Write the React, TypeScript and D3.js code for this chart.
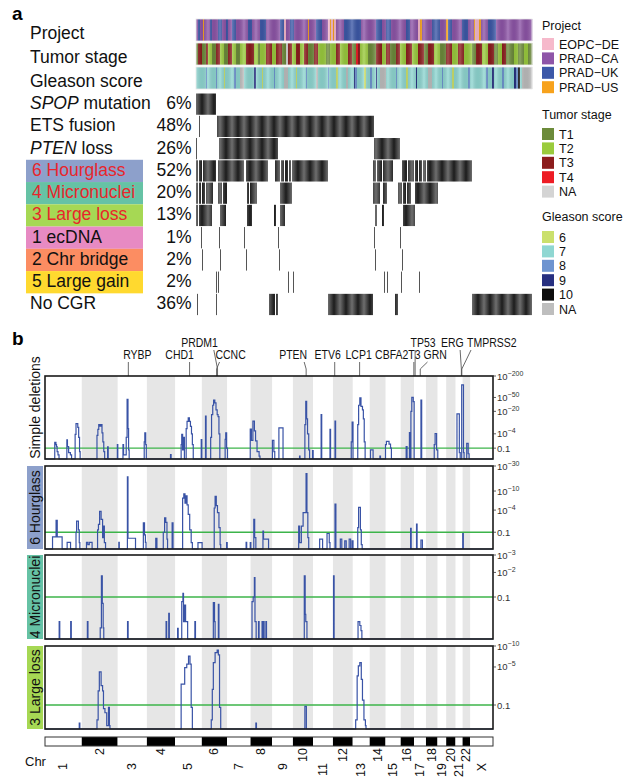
import React from "react";
import * as d3 from "d3";

const FONT = "'Liberation Sans', Arial, Helvetica, sans-serif";

// ---------- panel a data ----------
const N_SAMPLES = 336;

const projectRuns: [string, number][] = [
  ["CA", 2], ["UK", 2], ["CA", 3], ["US", 1], ["CA", 6], ["UK", 2], ["CA", 6], ["UK", 4], ["CA", 4], ["UK", 2],
  ["CA", 4], ["UK", 4], ["CA", 12], ["UK", 4], ["CA", 8], ["UK", 6], ["CA", 14], ["UK", 4], ["DE", 2], ["CA", 4],
  ["UK", 4], ["CA", 14], ["US", 1], ["CA", 7], ["UK", 6], ["CA", 6], ["DE", 2], ["US", 1], ["DE", 2], ["US", 1],
  ["DE", 2], ["CA", 8], ["UK", 17], ["CA", 15], ["UK", 6], ["CA", 4], ["UK", 5], ["CA", 15], ["UK", 4], ["CA", 8],
  ["DE", 2], ["US", 2], ["CA", 10], ["UK", 8], ["CA", 6], ["US", 2], ["UK", 4], ["CA", 10], ["UK", 6], ["CA", 6],
  ["US", 1], ["DE", 4], ["US", 2], ["CA", 7], ["UK", 8], ["CA", 36],
];

const tumorRuns: [string, number][] = [
  ["T1", 2], ["T3", 4], ["T1", 4], ["T3", 2], ["T2", 4], ["T1", 4], ["T3", 4], ["T2", 4], ["T1", 4], ["T3", 4],
  ["T2", 4], ["T1", 4], ["T2", 6], ["T3", 8], ["T2", 4], ["T1", 2], ["T2", 6], ["T3", 6], ["T2", 4], ["T3", 6],
  ["T1", 4], ["NA", 2], ["T3", 4], ["T2", 4], ["T3", 4], ["T2", 4], ["T3", 4], ["T1", 6], ["T3", 4], ["T2", 8],
  ["T1", 4], ["T2", 6], ["T3", 4], ["T2", 8], ["T3", 4], ["T1", 4], ["T4", 2], ["T3", 2], ["T2", 8], ["T1", 8],
  ["T3", 6], ["T2", 4], ["T3", 4], ["T1", 6], ["T3", 4], ["T2", 6], ["T3", 6], ["T2", 6], ["T3", 6], ["T1", 4],
  ["T3", 6], ["T2", 6], ["T1", 6], ["T3", 6], ["T2", 6], ["T3", 6], ["T2", 8], ["T1", 4], ["T3", 6], ["T2", 6],
  ["T3", 6], ["T1", 4], ["T2", 4], ["T3", 4], ["T1", 8], ["T2", 4], ["T1", 6], ["T2", 4], ["T1", 4],
];

const gleasonRuns: [string, number][] = [
  ["7", 10], ["8", 1], ["7", 9], ["8", 1], ["7", 7], ["6", 1], ["7", 9], ["8", 2], ["7", 4], ["NA", 4],
  ["7", 10], ["9", 2], ["7", 6], ["6", 1], ["7", 11], ["8", 1], ["7", 9], ["NA", 4], ["7", 8], ["6", 1],
  ["7", 9], ["8", 1], ["7", 9], ["NA", 2], ["7", 10], ["8", 1], ["7", 7], ["6", 2], ["7", 8], ["NA", 2],
  ["7", 6], ["9", 1], ["8", 2], ["7", 7], ["6", 2], ["7", 4], ["8", 2], ["7", 4], ["9", 1], ["7", 3],
  ["NA", 6], ["7", 10], ["8", 1], ["7", 9], ["6", 2], ["7", 8], ["9", 1], ["7", 11], ["NA", 4], ["7", 10],
  ["8", 1], ["7", 9], ["6", 2], ["7", 14], ["8", 2], ["7", 16], ["8", 2], ["7", 4], ["9", 2], ["7", 8],
  ["8", 2], ["7", 10], ["9", 2], ["8", 2], ["10", 2], ["7", 2], ["NA", 10],
];

const eventLabels = ["SPOP mutation", "ETS fusion", "PTEN loss", "6 Hourglass", "4 Micronuclei", "3 Large loss", "1 ecDNA", "2 Chr bridge", "5 Large gain", "No CGR"];
const eventPercents = ["6%", "48%", "26%", "52%", "20%", "13%", "1%", "2%", "2%", "36%"];

// sample ranges [start, end) carrying each event
const eventSegments: [number, number][][] = [
  [[0, 20]],
  [[3, 4], [21, 178]],
  [[0, 1], [23, 82], [178, 204]],
  [[0, 2], [3, 6], [7, 20], [22, 48], [50, 72], [79, 84], [85, 88], [89, 92], [93, 95], [96, 132], [177, 180], [181, 186], [187, 197], [206, 211], [212, 218], [219, 222], [223, 226], [227, 230], [231, 276]],
  [[0, 2], [3, 5], [6, 9], [10, 17], [22, 26], [27, 31], [51, 53], [54, 61], [84, 96], [177, 184], [187, 191], [202, 206], [207, 210], [211, 215], [219, 242]],
  [[0, 2], [3, 16], [24, 30], [51, 56], [78, 80], [84, 89], [179, 181], [186, 188], [207, 219]],
  [[5, 6], [23, 24], [48, 49], [82, 83], [178, 179], [204, 205]],
  [[6, 7], [24, 25], [50, 51], [83, 84], [179, 180], [206, 207]],
  [[20, 21], [22, 23], [92, 93], [97, 98], [188, 189], [191, 192], [205, 206], [223, 224]],
  [[1, 2], [20, 21], [73, 79], [80, 82], [132, 177], [199, 202], [276, 336]],
];

const projectLegend = [["DE", "EOPC\u2212DE"], ["CA", "PRAD\u2212CA"], ["UK", "PRAD\u2212UK"], ["US", "PRAD\u2212US"]];
const tumorLegend = [["T1", "T1"], ["T2", "T2"], ["T3", "T3"], ["T4", "T4"], ["NA", "NA"]];
const gleasonLegend = [["6", "6"], ["7", "7"], ["8", "8"], ["9", "9"], ["10", "10"], ["NA", "NA"]];

const projectColors: Record<string, string> = { DE: "#f6b9cb", CA: "#8e55a8", UK: "#3c58a8", US: "#f7a21c" };
const tumorColors: Record<string, string> = { T1: "#6c8b3a", T2: "#9acb3c", T3: "#8c1d1d", T4: "#ed1c24", NA: "#d4d4d4" };
const gleasonColors: Record<string, string> = { "6": "#cbe06c", "7": "#8fd7d2", "8": "#6e94d0", "9": "#262f80", "10": "#0d0d0d", NA: "#bebebe" };

const eventBoxColors = [null, null, null, "#8da0cb", "#66c2a5", "#a6d854", "#e78ac3", "#fc8d62", "#ffd92f", null];
const eventTextColors = ["#111", "#111", "#111", "#e8262b", "#e8262b", "#e8262b", "#111", "#111", "#111", "#111"];

// ---------- panel b data ----------
const chrNames = ["1", "2", "3", "4", "5", "6", "7", "8", "9", "10", "11", "12", "13", "14", "15", "16", "17", "18", "19", "20", "21", "22", "X"];
const chrLengths = [249, 243, 198, 191, 181, 171, 159, 146, 141, 136, 135, 134, 115, 107, 103, 90, 81, 78, 59, 63, 48, 51, 155];

const geneNames = ["RYBP", "CHD1", "PRDM1", "CCNC", "PTEN", "ETV6", "LCP1", "CBFA2T3", "TP53", "GRN", "ERG", "TMPRSS2"];
const geneChr = ["3", "5", "6", "6", "10", "12", "13", "16", "17", "17", "21", "21"];
const geneMb = [72.4, 98.2, 106.5, 99.9, 89.6, 12.0, 46.7, 89.0, 7.6, 42.4, 39.8, 42.8];

// profiles: [genome position (Mb, cumulative), -log10 q], step after
const simpleDeletions: [number, number][] = [
  [0, 0], [66, 1.9], [74, 1.5], [78, 1.2], [82, 0.6], [88, 0.3], [95, 0],
  [148, 2.4], [152, 1.2], [160, 0.5], [172, 0.3], [180, 0],
  [204, 3.8], [210, 8.6], [222, 6.5], [228, 3.0], [234, 0.6], [238, 0],
  [352, 3.5], [358, 5.6], [364, 8.0], [372, 7.2], [380, 8.0], [386, 4.3], [392, 2.0], [398, 0.6], [404, 0], [424, 1.16], [428, 0],
  [490, 1.5], [493, 0], [528, 1.5], [532, 0.3], [550, 3], [556, 44], [562, 6], [566, 0.8], [570, 0],
  [672, 2], [676, 4.3], [682, 1.5], [686, 0],
  [850, 0.32], [854, 0],
  [922, 1.5], [926, 3.8], [932, 0.8], [936, 3.0], [944, 0], [956, 6], [962, 10], [970, 12.9], [978, 10], [985, 7], [992, 4], [998, 1.5], [1004, 0],
  [1058, 2.46], [1062, 0], [1087, 14.4], [1091, 0],
  [1122, 3], [1128, 16], [1136, 30], [1142, 42], [1150, 35], [1158, 22], [1166, 16], [1172, 14], [1178, 4], [1184, 0],
  [1220, 2.5], [1224, 4.3], [1230, 1], [1236, 0],
  [1390, 5.8], [1398, 2.3], [1408, 10.2], [1418, 5], [1426, 2.2], [1436, 0.6], [1450, 0.2], [1456, 0],
  [1540, 2.3], [1550, 0.6], [1556, 0],
  [1584, 6.3], [1612, 0],
  [1724, 0.2], [1727, 0], [1760, 8], [1766, 39], [1772, 12], [1778, 4], [1786, 0.8], [1792, 0], [1812, 0.7], [1816, 0],
  [1870, 16.2], [1874, 0], [1930, 5.6], [1934, 0], [1964, 10.2], [1968, 0],
  [2074, 2], [2080, 9.5], [2086, 0], [2118, 8], [2124, 30], [2132, 49], [2140, 28], [2150, 22], [2156, 12], [2162, 2], [2168, 0],
  [2204, 0.8], [2222, 0], [2268, 0.2], [2272, 0],
  [2306, 1.5], [2312, 2.1], [2330, 1.6], [2340, 1.0], [2346, 0],
  [2446, 1.2], [2452, 0], [2468, 4.4], [2472, 0], [2478, 20], [2484, 50], [2494, 38], [2500, 0],
  [2546, 42], [2551, 0],
  [2636, 1.5], [2642, 4.1], [2652, 0.8], [2660, 0],
  [2790, 16.8], [2806, 0.5], [2812, 0], [2822, 113], [2834, 0.5], [2838, 0],
  [2856, 1.7], [2866, 0.4], [2872, 0],
  [3034, 0],
];

const hourglassProfile: [number, number][] = [
  [0, 0], [51, 0.65], [68, 0.65], [75, 2.26], [83, 0.65], [116, 0],
  [150, 0.31], [173, 0],
  [210, 1.0], [214, 2.17], [226, 1.2], [232, 0.3], [236, 0],
  [281, 0.31], [290, 0.2], [300, 0.31], [319, 0],
  [356, 1.2], [362, 1.77], [370, 3.76], [380, 2.4], [390, 0.6], [396, 1.58], [402, 0.3], [410, 0],
  [500, 0.31], [503, 0],
  [558, 18.8], [562, 0.56], [613, 0],
  [666, 1.96], [674, 0.8], [680, 0.31], [684, 0],
  [750, 0.56], [758, 0],
  [801, 1.0], [810, 2.63], [818, 2.0], [826, 0.5], [830, 0],
  [861, 1.96], [867, 0],
  [932, 7.2], [940, 8.8], [948, 5.7], [956, 8.0], [962, 5.2], [970, 3.2], [980, 1.2], [990, 0.3], [998, 0],
  [1036, 0.3], [1064, 0],
  [1146, 4.45], [1152, 7.8], [1160, 5.0], [1168, 3.5], [1178, 1.42], [1186, 0.2], [1190, 0],
  [1230, 0.3], [1234, 0],
  [1362, 0.31], [1366, 0], [1390, 0.3], [1394, 0],
  [1414, 2.4], [1420, 0.6], [1428, 0],
  [1476, 1.1], [1480, 0.5], [1500, 0.5], [1514, 0],
  [1718, 1.58], [1724, 0.3], [1736, 1.58], [1748, 3.5], [1768, 21.7], [1774, 3.5], [1780, 0.6], [1786, 0],
  [1860, 0.5], [1880, 0], [1910, 0.9], [1925, 0.3], [1930, 0],
  [1964, 5.4], [1970, 0],
  [2000, 0.5], [2010, 0], [2030, 0.4], [2040, 0], [2060, 0.5], [2070, 0], [2080, 0.4], [2086, 0],
  [2118, 1.42], [2124, 4.6], [2136, 1.2], [2142, 0.2], [2148, 0],
  [2476, 1.35], [2480, 0], [2516, 1.81], [2520, 0], [2546, 0.45], [2556, 0],
  [2829, 0.9], [2833, 0],
  [3034, 0],
];

const micronucleiProfile: [number, number][] = [
  [0, 0], [96, 0.33], [100, 0], [174, 0.33], [178, 0], [287, 0.33], [291, 0],
  [374, 0.2], [382, 1.84], [388, 0.8], [394, 0.2], [398, 0],
  [559, 0.33], [563, 0],
  [820, 0.33], [824, 0], [838, 0.53], [842, 0], [898, 0.19], [902, 0],
  [926, 0.85], [934, 1.12], [938, 0.33], [944, 0.75], [952, 0.33], [960, 0.33], [966, 0], [1015, 0.33], [1019, 0],
  [1140, 0.82], [1148, 0.33], [1152, 0], [1174, 0.77], [1178, 0],
  [1402, 0.85], [1410, 1.0], [1418, 1.75], [1422, 0.33], [1430, 0], [1446, 0.33], [1450, 0], [1470, 0.33], [1474, 0], [1480, 0.33], [1484, 0], [1496, 0.33], [1500, 0],
  [1756, 1.84], [1762, 0.5], [1766, 0.33], [1774, 0],
  [1954, 1.84], [1958, 0],
  [2120, 0.33], [2132, 0.25], [2140, 0.15], [2146, 0],
  [3034, 0],
];

const largeLossProfile: [number, number][] = [
  [0, 0], [232, 0.19], [236, 0],
  [352, 0.3], [360, 2.0], [368, 4.2], [380, 2.5], [390, 2.0], [396, 0.8], [406, 0.6], [418, 0.1], [430, 0.87], [436, 0.1], [440, 0],
  [922, 2.65], [946, 4.9], [960, 5.5], [972, 7.2], [982, 5.5], [990, 0.87], [998, 0],
  [1126, 0.3], [1133, 2.15], [1140, 5.8], [1152, 8.1], [1166, 8.8], [1174, 7.5], [1182, 0.87], [1190, 0],
  [1428, 0.19], [1432, 0],
  [1760, 0.92], [1770, 0],
  [2104, 0.3], [2114, 3.64], [2122, 5.2], [2132, 5.8], [2142, 3.2], [2150, 1.3], [2160, 0.3], [2170, 0.1], [2174, 0],
  [3034, 0],
];

const panels = [
  { name: "Simple deletions", data: simpleDeletions, max: 200, ticks: [200, 50, 20, 4, 1], box: null, top: 376, bottom: 459 },
  { name: "6 Hourglass", data: hourglassProfile, max: 30, ticks: [30, 10, 4, 1], box: "#8da0cb", top: 466, bottom: 549 },
  { name: "4 Micronuclei", data: micronucleiProfile, max: 3, ticks: [3, 2, 1], box: "#66c2a5", top: 555, bottom: 639 },
  { name: "3 Large loss", data: largeLossProfile, max: 10, ticks: [10, 5, 1], box: "#a6d854", top: 646, bottom: 729 },
];

function runsToCells(runs: [string, number][]) {
  let acc = 0;
  return runs.map(([k, n]) => {
    const c = { k, start: acc, end: acc + n };
    acc += n;
    return c;
  });
}

function renderLabel(label: string) {
  if (label.startsWith("SPOP") || label.startsWith("PTEN")) {
    const [first, ...rest] = label.split(" ");
    return (
      <>
        <tspan fontStyle="italic">{first}</tspan> {rest.join(" ")}
      </>
    );
  }
  return label;
}

function tickLabel(v: number) {
  if (v === 1) return <tspan>0.1</tspan>;
  return (
    <>
      <tspan>10</tspan>
      <tspan fontSize={7} dy={-4}>{"\u2212" + v}</tspan>
    </>
  );
}

const App = () => {
  const W = 624;
  const H = 779;

  // panel a
  const heatX = d3.scaleLinear().domain([0, N_SAMPLES]).range([196, 532]);
  const annRows = [
    { name: "Project", cells: runsToCells(projectRuns), colors: projectColors, top: 19 },
    { name: "Tumor stage", cells: runsToCells(tumorRuns), colors: tumorColors, top: 43 },
    { name: "Gleason score", cells: runsToCells(gleasonRuns), colors: gleasonColors, top: 67 },
  ];
  const annH = 22;
  const rowTop = 93;
  const rowH = 22.26;
  const labelSize = 17.5;

  const legends = [
    { title: "Project", items: projectLegend, colors: projectColors, titleY: 30, top: 38 },
    { title: "Tumor stage", items: tumorLegend, colors: tumorColors, titleY: 119, top: 128 },
    { title: "Gleason score", items: gleasonLegend, colors: gleasonColors, titleY: 221, top: 231 },
  ];
  const legStep = 14.4;

  // panel b
  const chrStart = chrLengths.map((_, i) => d3.sum(chrLengths.slice(0, i)));
  const genomeTotal = d3.sum(chrLengths);
  const gx = d3.scaleLinear().domain([0, genomeTotal]).range([45, 493]);
  const plotL = gx(0);
  const plotR = gx(genomeTotal);

  const genes = geneNames.map((name, i) => {
    const pos = chrStart[chrNames.indexOf(geneChr[i])] + geneMb[i];
    return { name, x: gx(pos) };
  });
  const geneDx = [9, -10, -18, 14, -13, -7, -1, -16, 8, 15, -9, 30];
  const geneUpper = [false, false, true, false, false, false, false, false, true, false, true, true];
  const geneSize = 12.5;
  const geneSquash = 0.84;

  const chrBarTop = 737;
  const chrBarH = 9;

  return (
    <svg width={W} height={H} style={{ position: "absolute", left: 0, top: 0, background: "#fff" }} fontFamily={FONT}>
      <defs>
        <linearGradient id="barGrad" x1="0" x2="1" y1="0" y2="0">
          <stop offset="0" stopColor="#6e6e6e" />
          <stop offset="0.5" stopColor="#1c1c1c" />
          <stop offset="1" stopColor="#6e6e6e" />
        </linearGradient>
        <pattern id="barPattern" patternUnits="userSpaceOnUse" x={196} y={0} width={12} height={10}>
          <rect width={12} height={10} fill="url(#barGrad)" />
        </pattern>
        <linearGradient id="shadeGrad" x1="0" x2="1" y1="0" y2="0">
          <stop offset="0" stopColor="#fff" stopOpacity={0.22} />
          <stop offset="0.5" stopColor="#000" stopOpacity={0.08} />
          <stop offset="1" stopColor="#fff" stopOpacity={0.22} />
        </linearGradient>
        <pattern id="shadePattern" patternUnits="userSpaceOnUse" x={196} y={0} width={12} height={10}>
          <rect width={12} height={10} fill="url(#shadeGrad)" />
        </pattern>
      </defs>

      {/* ---------------- panel a ---------------- */}
      <text x={12} y={20} fontSize={19} fontWeight="bold">a</text>

      {annRows.map((row) => (
        <g key={row.name}>
          <text x={30} y={row.top + 20.3} fontSize={labelSize} fill="#111">{row.name}</text>
          {row.cells.map((c, i) => (
            <rect key={i} x={heatX(c.start)} y={row.top} width={heatX(c.end) - heatX(c.start) + 0.3} height={annH} fill={row.colors[c.k]} />
          ))}
          <rect x={heatX(0)} y={row.top} width={heatX(N_SAMPLES) - heatX(0)} height={annH} fill="url(#shadePattern)" stroke="#e8e8e8" strokeWidth={0.8} />
        </g>
      ))}

      {eventLabels.map((label, i) => {
        const top = rowTop + i * rowH;
        const box = eventBoxColors[i];
        return (
          <g key={label}>
            {box && <rect x={26} y={top} width={117} height={rowH} fill={box} />}
            <text x={box ? 32 : 30} y={top + 16} fontSize={labelSize} fill={eventTextColors[i]}>{renderLabel(label)}</text>
            <text x={191.5} y={top + 16} fontSize={labelSize} textAnchor="end" fill="#111">{eventPercents[i]}</text>
            {eventSegments[i].map(([s, e], j) => (
              <rect key={j} x={heatX(s)} y={top + 0.5} width={Math.max(heatX(e) - heatX(s), 1)} height={rowH - 1} fill={e - s <= 1 ? "#555" : "url(#barPattern)"} />
            ))}
          </g>
        );
      })}

      {legends.map((lg) => (
        <g key={lg.title}>
          <text x={542} y={lg.titleY} fontSize={12.5} fill="#111">{lg.title}</text>
          {lg.items.map(([k, name], i) => (
            <g key={k}>
              <rect x={542} y={lg.top + i * legStep} width={12} height={12} fill={lg.colors[k]} />
              <text x={559} y={lg.top + i * legStep + 10.5} fontSize={12.5} fill="#111">{name}</text>
            </g>
          ))}
        </g>
      ))}

      {/* ---------------- panel b ---------------- */}
      <text x={12} y={345} fontSize={19} fontWeight="bold">b</text>

      {genes.map((g, i) => {
        const lx = g.x + geneDx[i];
        const ly = geneUpper[i] ? 347 : 359;
        const halfW = (g.name.length * geneSize * 0.62 * geneSquash) / 2;
        const sx = Math.max(lx - halfW + 2, Math.min(lx + halfW - 2, g.x));
        return (
          <g key={g.name}>
            <text transform={`translate(${lx},${ly}) scale(${geneSquash},1)`} fontSize={geneSize} textAnchor="middle" fill="#111">{g.name}</text>
            <polyline points={`${sx},${ly + 3} ${g.x},${369} ${g.x},${panels[0].top}`} fill="none" stroke="#444" strokeWidth={0.8} />
          </g>
        );
      })}

      {panels.map((p) => {
        const y = d3.scaleSymlog().constant(1).domain([0, p.max]).range([p.bottom, p.top]);
        const line = d3
          .line<[number, number]>()
          .x((d) => gx(d[0]))
          .y((d) => y(d[1]))
          .curve(d3.curveStepAfter);
        const mid = (p.top + p.bottom) / 2;
        return (
          <g key={p.name}>
            <rect x={plotL} y={p.top} width={plotR - plotL} height={p.bottom - p.top} fill="#fff" />
            {chrNames.map((c, i) =>
              i % 2 === 1 && c !== "X" ? (
                <rect key={c} x={gx(chrStart[i])} y={p.top} width={gx(chrStart[i] + chrLengths[i]) - gx(chrStart[i])} height={p.bottom - p.top} fill="#e6e6e6" />
              ) : null
            )}
            <line x1={plotL} x2={plotR} y1={y(1)} y2={y(1)} stroke="#3cb44a" strokeWidth={1.3} />
            <path d={line(p.data) || ""} fill="none" stroke="#3953a6" strokeWidth={1.2} />
            <rect x={plotL} y={p.top} width={plotR - plotL} height={p.bottom - p.top} fill="none" stroke="#1a1a1a" strokeWidth={1.6} />
            {p.ticks.map((t) => (
              <g key={t}>
                <line x1={plotR} x2={plotR + 3} y1={y(t)} y2={y(t)} stroke="#333" strokeWidth={0.8} />
                <text x={plotR + 4} y={y(t) + 3.5} fontSize={9.5} fill="#333">{tickLabel(t)}</text>
              </g>
            ))}
            {p.box && <rect x={27} y={p.top} width={16} height={p.bottom - p.top} fill={p.box} />}
            <text transform={`translate(${35},${p.box ? mid : mid - 10}) rotate(-90)`} textAnchor="middle" dominantBaseline="central" fontSize={14} fill="#111">
              {p.name}
            </text>
          </g>
        );
      })}

      {/* chromosome bar */}
      {chrNames.map((c, i) => (
        <rect key={c} x={gx(chrStart[i])} y={chrBarTop} width={gx(chrStart[i] + chrLengths[i]) - gx(chrStart[i])} height={chrBarH} fill={i % 2 === 1 && c !== "X" ? "#000" : "#fff"} />
      ))}
      <rect x={plotL} y={chrBarTop} width={plotR - plotL} height={chrBarH} fill="none" stroke="#333" strokeWidth={1} />
      <text x={25} y={766} fontSize={13} fill="#111">Chr</text>
      {chrNames.map((c, i) => {
        const cx = gx(chrStart[i] + chrLengths[i] / 2);
        const ty = i % 2 === 1 ? 748 : 763;
        return (
          <text key={c} transform={`translate(${cx},${ty}) rotate(-90)`} textAnchor="end" dominantBaseline="central" fontSize={12.5} fill="#111">
            {c}
          </text>
        );
      })}
    </svg>
  );
};

export default App;
